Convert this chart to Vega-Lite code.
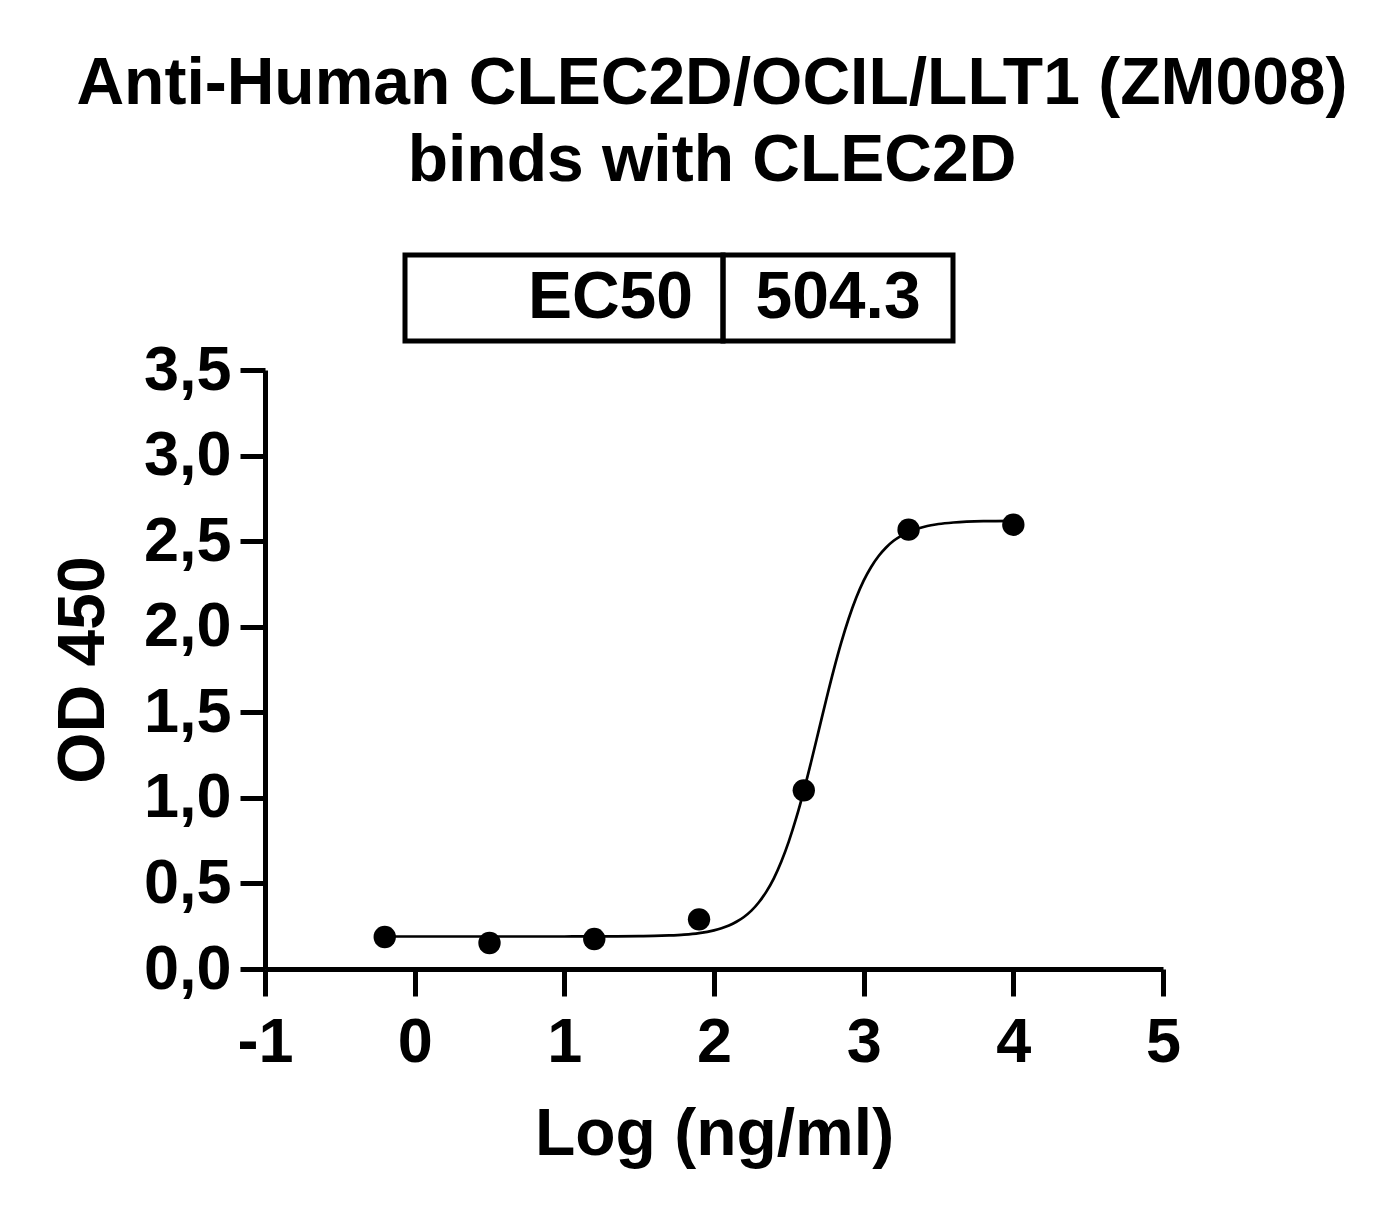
{
  "$schema": "https://vega.github.io/schema/vega-lite/v6.json",
  "padding": {"top": 50, "left": 50, "right": 5, "bottom": 5},
  "background": "white",
  "title": {
    "text": ["Anti-Human CLEC2D/OCIL/LLT1 (ZM008)", "binds with CLEC2D"],
    "font": "Liberation Sans",
    "fontSize": 66,
    "fontWeight": "bold",
    "lineHeight": 77,
    "color": "black",
    "anchor": "middle",
    "frame": "group",
    "dx": 447,
    "offset": 58
  },
  "datasets": {
    "ec50": [{"label": "EC50", "value": "504.3"}],
    "points": [
      {"logc": -0.2, "od": 0.187},
      {"logc": 0.5, "od": 0.152},
      {"logc": 1.2, "od": 0.175},
      {"logc": 1.9, "od": 0.29},
      {"logc": 2.6, "od": 1.044},
      {"logc": 3.3, "od": 2.567},
      {"logc": 4.0, "od": 2.596}
    ],
    "curve": [
      {"logc": -0.2, "od": 0.19},
      {"logc": 0.5, "od": 0.19},
      {"logc": 1.0, "od": 0.19},
      {"logc": 1.3, "od": 0.191},
      {"logc": 1.5, "od": 0.192},
      {"logc": 1.6, "od": 0.193},
      {"logc": 1.7, "od": 0.196},
      {"logc": 1.8, "od": 0.201},
      {"logc": 1.9, "od": 0.21},
      {"logc": 2.0, "od": 0.226},
      {"logc": 2.05, "od": 0.238},
      {"logc": 2.1, "od": 0.254},
      {"logc": 2.15, "od": 0.276},
      {"logc": 2.2, "od": 0.304},
      {"logc": 2.25, "od": 0.341},
      {"logc": 2.3, "od": 0.39},
      {"logc": 2.35, "od": 0.452},
      {"logc": 2.4, "od": 0.53},
      {"logc": 2.45, "od": 0.628},
      {"logc": 2.5, "od": 0.746},
      {"logc": 2.55, "od": 0.884},
      {"logc": 2.6, "od": 1.041},
      {"logc": 2.65, "od": 1.214},
      {"logc": 2.7, "od": 1.394},
      {"logc": 2.75, "od": 1.575},
      {"logc": 2.8, "od": 1.748},
      {"logc": 2.85, "od": 1.907},
      {"logc": 2.9, "od": 2.048},
      {"logc": 2.95, "od": 2.169},
      {"logc": 3.0, "od": 2.269},
      {"logc": 3.05, "od": 2.349},
      {"logc": 3.1, "od": 2.413},
      {"logc": 3.15, "od": 2.463},
      {"logc": 3.2, "od": 2.502},
      {"logc": 3.25, "od": 2.531},
      {"logc": 3.3, "od": 2.554},
      {"logc": 3.35, "od": 2.57},
      {"logc": 3.4, "od": 2.583},
      {"logc": 3.45, "od": 2.593},
      {"logc": 3.5, "od": 2.6},
      {"logc": 3.6, "od": 2.609},
      {"logc": 3.8, "od": 2.617},
      {"logc": 4.0, "od": 2.619}
    ]
  },
  "spacing": -5,
  "vconcat": [
    {
      "bounds": "flush",
      "spacing": 0,
      "hconcat": [
        {
          "width": 140,
          "height": 86,
          "view": {"stroke": null},
          "data": {"name": "ec50"},
          "mark": {"type": "text"},
          "encoding": {"text": {"value": ""}}
        },
        {
          "width": 318,
          "height": 86,
          "view": {"stroke": "black", "strokeWidth": 5},
          "data": {"name": "ec50"},
          "mark": {
            "type": "text",
            "align": "right",
            "baseline": "middle",
            "dx": 129,
            "font": "Liberation Sans",
            "fontSize": 66,
            "fontWeight": "bold",
            "color": "black"
          },
          "encoding": {"text": {"field": "label"}}
        },
        {
          "width": 230,
          "height": 86,
          "view": {"stroke": "black", "strokeWidth": 5},
          "data": {"name": "ec50"},
          "mark": {
            "type": "text",
            "align": "center",
            "baseline": "middle",
            "font": "Liberation Sans",
            "fontSize": 66,
            "fontWeight": "bold",
            "color": "black"
          },
          "encoding": {"text": {"field": "value"}}
        }
      ]
    },
    {
      "width": 898,
      "height": 599,
      "view": {"stroke": null},
      "encoding": {
        "x": {
          "field": "logc",
          "type": "quantitative",
          "scale": {"domain": [-1, 5], "nice": false, "zero": false},
          "axis": {
            "title": "Log (ng/ml)",
            "values": [-1, 0, 1, 2, 3, 4, 5],
            "labelExpr": "'' + datum.value",
            "tickSize": 27,
            "labelPadding": 15,
            "titlePadding": 28
          }
        },
        "y": {
          "field": "od",
          "type": "quantitative",
          "scale": {"domain": [0, 3.5], "nice": false},
          "axis": {
            "title": "OD 450",
            "values": [0, 0.5, 1, 1.5, 2, 2.5, 3, 3.5],
            "labelExpr": "replace(format(datum.value, '.1f'), '.', ',')",
            "tickSize": 25,
            "labelPadding": 9,
            "titlePadding": 26
          }
        }
      },
      "layer": [
        {
          "data": {"name": "curve"},
          "mark": {"type": "line", "interpolate": "monotone", "color": "black", "strokeWidth": 2.7}
        },
        {
          "data": {"name": "points"},
          "mark": {"type": "point", "filled": true, "size": 500, "color": "black", "opacity": 1}
        }
      ]
    }
  ],
  "config": {
    "view": {"stroke": null},
    "font": "Liberation Sans",
    "axis": {
      "grid": false,
      "domainColor": "black",
      "domainWidth": 5,
      "tickColor": "black",
      "tickWidth": 5,
      "labelFont": "Liberation Sans",
      "labelFontSize": 63,
      "labelFontWeight": "bold",
      "labelColor": "black",
      "titleFont": "Liberation Sans",
      "titleFontSize": 66,
      "titleFontWeight": "bold",
      "titleColor": "black",
      "labelOverlap": false,
      "labelFlush": false
    }
  }
}
